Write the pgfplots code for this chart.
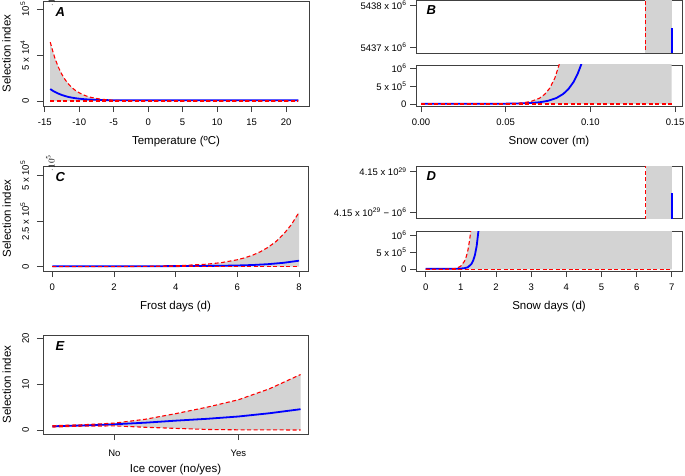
\documentclass[border=0pt]{standalone}
\usepackage{pgfplots}
\pgfplotsset{compat=1.18}
\usepackage{fontspec}
\setmainfont{Liberation Sans}
\definecolor{shade}{HTML}{D3D3D3}
\definecolor{boxc}{HTML}{404040}
\definecolor{rr}{HTML}{FF0000}
\definecolor{bb}{HTML}{0000FF}
\newcommand{\tl}{\fontsize{9.5}{11}\selectfont}
\newcommand{\al}{\fontsize{11.5}{13}\selectfont}
\newcommand{\pl}{\fontsize{13}{15}\selectfont\bfseries\itshape}
\pgfplotsset{
  panel/.style={scale only axis, clip mode=individual,
    axis line style={draw=boxc, line width=0.9pt},
    tick style={draw=boxc, line width=0.8pt},
    tick align=outside, major tick length=6pt, tick pos=left,
    xticklabel style={font=\tl}, xticklabel shift=3pt,
    yticklabel style={font=\tl},
    xlabel style={font=\al, at={(axis description cs:0.5,0)}, anchor=center, yshift=-36pt},
  },
  vlab/.style={yticklabel style={rotate=90, anchor=south, font=\tl}, yticklabel shift=4.5pt,
    ylabel style={font=\al, at={(axis description cs:-0.137,0.5)}, anchor=center}},
  up/.style={draw=rr, color=rr, line width=1.1pt, dash pattern=on 4pt off 2.5pt},
  blu/.style={draw=bb, color=bb, line width=1.8pt},
  sh/.style={fill=shade, draw=none},
}
\begin{document}
\begin{tikzpicture}
\path[use as bounding box] (0pt,0pt) rectangle (685pt,475pt);

% ---------- Panel A ----------
\begin{axis}[panel, vlab, at={(43pt,369pt)}, anchor=south west, width=266pt, height=105pt,
  xmin=-15.25, xmax=23.33, ymin=-5430, ymax=108700,
  xtick={-15,-10,-5,0,5,10,15,20}, xticklabels={-15,-10,-5,0,5,10,15,20},
  ytick={0,50000,100000}, yticklabels={0,5 x 10\textsuperscript{4},10\textsuperscript{5}},
  xlabel={Temperature (ºC)}, ylabel={Selection index}]
\addplot[sh] coordinates {(-14.2,64000) (-13.8,53300) (-13.5,46000) (-13,36400) (-12.5,28800) (-12,22700) (-11.5,18000) (-11,14200) (-10.5,11200) (-10,8900) (-9.5,7000) (-9,5560) (-8.5,4400) (-8,3470) (-7,2170) (-6,1360) (-5,850) (-4,530) (-2,210) (0,80) (5,10) (10,1) (21.8,0) (21.8,0) (-14.2,0)} -- cycle;
\addplot[blu] coordinates {(-14.2,13000) (-13.8,11000) (-13.5,9800) (-13,8000) (-12.5,6500) (-12,5300) (-11.5,4300) (-11,3600) (-10.5,3000) (-10,2500) (-9,1800) (-8,1400) (-7,1100) (-6,950) (-5,850) (-3,800) (0,800) (10,800) (21.8,800)};
\addplot[up] coordinates {(-14.2,64000) (-13.8,53300) (-13.5,46000) (-13,36400) (-12.5,28800) (-12,22700) (-11.5,18000) (-11,14200) (-10.5,11200) (-10,8900) (-9.5,7000) (-9,5560) (-8.5,4400) (-8,3470) (-7,2170) (-6,1360) (-5,850) (-4,530) (-2,210) (0,80) (5,10) (10,1) (21.8,0)};
\addplot[up] coordinates {(-14.2,0) (21.8,0)};
\node[font=\pl, anchor=north west, xshift=9pt, yshift=-3pt] at (rel axis cs:0,1) {A};
\end{axis}

% ---------- Panel B top ----------
\begin{axis}[panel, at={(416pt,422pt)}, anchor=south west, width=266pt, height=53pt,
  xmin=-0.00295, xmax=0.1541, ymin=5436.86, ymax=5438.12,
  xtick=\empty, ytick={5437,5438}, yticklabels={5437 x 10\textsuperscript{6},5438 x 10\textsuperscript{6}}]
\addplot[sh] coordinates {(0.1325,5436) (0.148,5436) (0.148,5439) (0.1325,5439)} -- cycle;
\addplot[blu] coordinates {(0.148,5436) (0.148,5437.45)};
\addplot[up] coordinates {(0.1325,5436) (0.1325,5439)};
\node[font=\pl, anchor=north west, xshift=7pt, yshift=-2pt] at (rel axis cs:0,1) {B};
\end{axis}

% ---------- Panel B bottom ----------
\begin{axis}[panel, at={(416pt,369pt)}, anchor=south west, width=266pt, height=41pt,
  xmin=-0.00295, xmax=0.1541, ymin=-0.056, ymax=1.083,
  xtick={0,0.05,0.1,0.15}, xticklabels={0.00,0.05,0.10,0.15},
  ytick={0,0.5,1}, yticklabels={0,5 x 10\textsuperscript{5},10\textsuperscript{6}},
  xlabel={Snow cover (m)}]
\addplot[sh] coordinates {(0,0) (0.03,0.001) (0.04,0.002) (0.05,0.006) (0.055,0.014) (0.06,0.031) (0.065,0.071) (0.07,0.162) (0.073,0.267) (0.076,0.438) (0.079,0.718) (0.0815,1.085) (0.084,1.64) (0.09,3) (0.148,3) (0.148,0)} -- cycle;
\addplot[blu] coordinates {(0,0.008) (0.05,0.009) (0.06,0.018) (0.065,0.028) (0.07,0.048) (0.075,0.088) (0.08,0.167) (0.084,0.28) (0.087,0.412) (0.09,0.607) (0.0925,0.838) (0.0945,1.085) (0.097,1.5) (0.1,2.2)};
\addplot[up] coordinates {(0,0) (0.03,0.001) (0.04,0.002) (0.05,0.006) (0.055,0.014) (0.06,0.031) (0.065,0.071) (0.07,0.162) (0.073,0.267) (0.076,0.438) (0.079,0.718) (0.0815,1.085) (0.084,1.64) (0.087,2.5)};
\addplot[up] coordinates {(0,0) (0.148,0)};
\end{axis}

% ---------- Panel C ----------
\begin{axis}[panel, vlab, at={(43pt,204pt)}, anchor=south west, width=265pt, height=105pt,
  xmin=-0.3, xmax=8.29, ymin=-23600, ymax=553000,
  xtick={0,2,4,6,8}, xticklabels={0,2,4,6,8},
  ytick={0,250000,500000}, yticklabels={0,2.5 x 10\textsuperscript{5},5 x 10\textsuperscript{5}},
  xlabel={Frost days (d)}, ylabel={Selection index}]
\addplot[sh] coordinates {(0,80) (1,220) (2,620) (3,1740) (4,4850) (5,13600) (5.5,22800) (6,38100) (6.25,49300) (6.5,63800) (6.75,82500) (7,107000) (7.25,138000) (7.5,179000) (7.75,231000) (8,299000) (8,0) (0,0)} -- cycle;
\addplot[blu] coordinates {(0,2500) (3,2800) (4,3200) (5,4200) (5.5,5200) (6,6700) (6.5,9300) (7,14000) (7.5,21500) (8,33000)};
\addplot[up] coordinates {(0,80) (1,220) (2,620) (3,1740) (4,4850) (5,13600) (5.5,22800) (6,38100) (6.25,49300) (6.5,63800) (6.75,82500) (7,107000) (7.25,138000) (7.5,179000) (7.75,231000) (8,299000)};
\addplot[up] coordinates {(0,0) (8,0)};
\node[font=\pl, anchor=north west, xshift=9pt, yshift=-3pt] at (rel axis cs:0,1) {C};
\end{axis}

% ---------- Panel D top ----------
\begin{axis}[panel, at={(416pt,257pt)}, anchor=south west, width=266pt, height=52pt,
  xmin=-0.276, xmax=7.29, ymin=-1.14, ymax=0.14,
  xtick=\empty, ytick={-1,0}, yticklabels={4.15 x 10\textsuperscript{29} − 10\textsuperscript{6},4.15 x 10\textsuperscript{29}}]
\addplot[sh] coordinates {(6.26,-2) (7,-2) (7,1) (6.26,1)} -- cycle;
\addplot[blu] coordinates {(7,-2) (7,-0.532)};
\addplot[up] coordinates {(6.26,-2) (6.26,1)};
\node[font=\pl, anchor=north west, xshift=7pt, yshift=-2pt] at (rel axis cs:0,1) {D};
\end{axis}

% ---------- Panel D bottom ----------
\begin{axis}[panel, at={(416pt,204pt)}, anchor=south west, width=266pt, height=40pt,
  xmin=-0.276, xmax=7.29, ymin=-0.05, ymax=1.117,
  xtick={0,1,2,3,4,5,6,7}, xticklabels={0,1,2,3,4,5,6,7},
  ytick={0,0.5,1}, yticklabels={0,5 x 10\textsuperscript{5},10\textsuperscript{6}},
  xlabel={Snow days (d)}]
\addplot[sh] coordinates {(0,0) (0.5,0.001) (0.8,0.016) (0.9,0.04) (1.0,0.095) (1.1,0.23) (1.15,0.356) (1.2,0.553) (1.25,0.858) (1.28,1.117) (1.35,2.07) (1.4,3) (7,3) (7,0)} -- cycle;
\addplot[blu] coordinates {(0,0.018) (0.9,0.018) (1.0,0.022) (1.1,0.032) (1.2,0.06) (1.3,0.154) (1.35,0.253) (1.4,0.415) (1.45,0.681) (1.5,1.117) (1.55,1.83) (1.6,3)};
\addplot[up] coordinates {(0,0) (0.5,0.001) (0.8,0.016) (0.9,0.04) (1.0,0.095) (1.1,0.23) (1.15,0.356) (1.2,0.553) (1.25,0.858) (1.28,1.117) (1.35,2.07)};
\addplot[up] coordinates {(0,0) (7,0)};
\end{axis}

% ---------- Panel E ----------
\begin{axis}[panel, vlab, at={(43pt,41pt)}, anchor=south west, width=265pt, height=99pt,
  xmin=-0.575, xmax=1.56, ymin=-0.87, ymax=20.72,
  xtick={0,1}, xticklabels={No,Yes}, xticklabel shift=6pt,
  ytick={0,10,20}, yticklabels={0,10,20},
  xlabel={Ice cover (no/yes)}, ylabel={Selection index}]
\addplot[sh] coordinates {(-0.5,0.95) (-0.25,1.15) (0,1.5) (0.25,2.35) (0.5,3.6) (0.75,5.0) (1.0,6.6) (1.25,9.0) (1.5,12.1) (1.5,0.01) (1.25,0.02) (1.0,0.04) (0.75,0.12) (0.5,0.35) (0.25,0.6) (0,0.9) (-0.25,0.85) (-0.5,0.65)} -- cycle;
\addplot[blu] coordinates {(-0.5,0.81) (-0.25,1.0) (0,1.25) (0.25,1.6) (0.5,2.05) (0.75,2.45) (1.0,2.95) (1.25,3.66) (1.5,4.54)};
\addplot[up] coordinates {(-0.5,0.95) (-0.25,1.15) (0,1.5) (0.25,2.35) (0.5,3.6) (0.75,5.0) (1.0,6.6) (1.25,9.0) (1.5,12.1)};
\addplot[up] coordinates {(-0.5,0.65) (-0.25,0.85) (0,0.9) (0.25,0.6) (0.5,0.35) (0.75,0.12) (1.0,0.04) (1.25,0.02) (1.5,0.01)};
\node[font=\pl, anchor=north west, xshift=9pt, yshift=-3pt] at (rel axis cs:0,1) {E};
\end{axis}
\end{tikzpicture}
\end{document}
